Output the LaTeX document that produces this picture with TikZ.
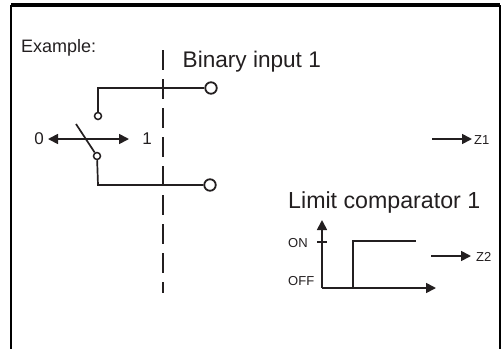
\documentclass[tikz,border=0pt]{standalone}
\usepackage{fontspec}
\setmainfont{Liberation Sans}
\usetikzlibrary{positioning,arrows.meta}
\definecolor{InkGrey}{RGB}{35,31,32}

\begin{document}
\begin{tikzpicture}[
  x=1pt, y=-1pt,
  >={Triangle[length=10pt,width=10pt]},
  frame/.style={line width=2pt, black},
  wire/.style={line width=1.7pt, InkGrey},
  arr/.style={->, line width=1.7pt, InkGrey},
  terminal/.style={draw=InkGrey, line width=1.8pt, circle, fill=white, inner sep=0pt, minimum size=11.5pt},
  contact/.style={draw=InkGrey, line width=1.5pt, circle, fill=white, inner sep=0pt, minimum size=7pt},
  bigl/.style={font=\fontsize{22.6}{23}\selectfont, text=InkGrey, inner sep=0pt, anchor=base west},
  lbl/.style={font=\fontsize{13}{13}\selectfont, text=InkGrey, inner sep=0pt, anchor=base west},
  digit/.style={font=\fontsize{17}{17}\selectfont, text=InkGrey, inner sep=0pt, anchor=base},
  smalltxt/.style={font=\fontsize{18}{18}\selectfont, text=InkGrey, inner sep=0pt, anchor=base west},
]
\useasboundingbox (0,0) rectangle (501,349);

% ============ FRAME ============
\coordinate (tl) at (11,5);
\coordinate (bl) at (11,349);
\coordinate (tr) at (500,5);
\coordinate (br) at (500,349);
\draw[line width=3.6pt, black] (tl) -- (tr);
\draw[frame] (tl) -- (bl);
\draw[frame] (tr) -- (br);

% ============ BINARY INPUT (left) ============
\node[smalltxt] (example) at (21,52) {Example:};
\node[bigl] (binary) at (182.5,67) {Binary input 1};

\coordinate (sep1) at (163,50);
\coordinate (sep2) at (163,293);
\draw[line width=1.7pt, InkGrey, dash pattern=on 19.5pt off 9.5pt] (sep1) -- (sep2);

\node[terminal] (out1) at (211,88) {};
\node[terminal] (out0) at (210,185) {};
\node[contact] (c1) at (98,116) {};
\node[contact] (c0) at (97,156) {};
\coordinate (corner1) at (98,88);
\coordinate (corner0) at (98,185);
\coordinate (blade) at (76,124);
\draw[wire] (c1) -- (corner1) -- (out1);
\draw[wire] (c0) -- (corner0) -- (out0);
\draw[wire] (blade) -- (c0);

\node[digit] (n0) at (39,144) {0};
\node[digit] (n1) at (147,144) {1};
\coordinate (a0) at (48,139);
\coordinate (a1) at (129,139);
\draw[arr, <->] (a0) -- (a1);

% ============ OUTPUTS (right) ============
\node[lbl] (z1) at (474,144) {Z1};
\node[lbl] (z2) at (476,261) {Z2};
\coordinate (z1in) at (432,139);
\coordinate (z1end) at (472,139);
\coordinate (z2in) at (431,256);
\coordinate (z2end) at (471,256);
\draw[arr] (z1in) -- (z1end);
\draw[arr] (z2in) -- (z2end);

% ============ LIMIT COMPARATOR ============
\node[bigl, font=\fontsize{23.2}{23}\selectfont] (limit) at (288,208.5) {Limit comparator 1};
\node[lbl] (on) at (288,247) {ON};
\node[lbl] (off) at (288,285) {OFF};

\coordinate (origin) at (322,288);
\coordinate (ytop) at (322,220);
\coordinate (xend) at (436,288);
\draw[arr] (origin) -- (ytop);
\draw[arr] (origin) -- (xend);
\draw[wire] (317,242) -- (327,242);
\draw[wire] (353,288) -- (353,241) -- (416,241);
\end{tikzpicture}
\end{document}
